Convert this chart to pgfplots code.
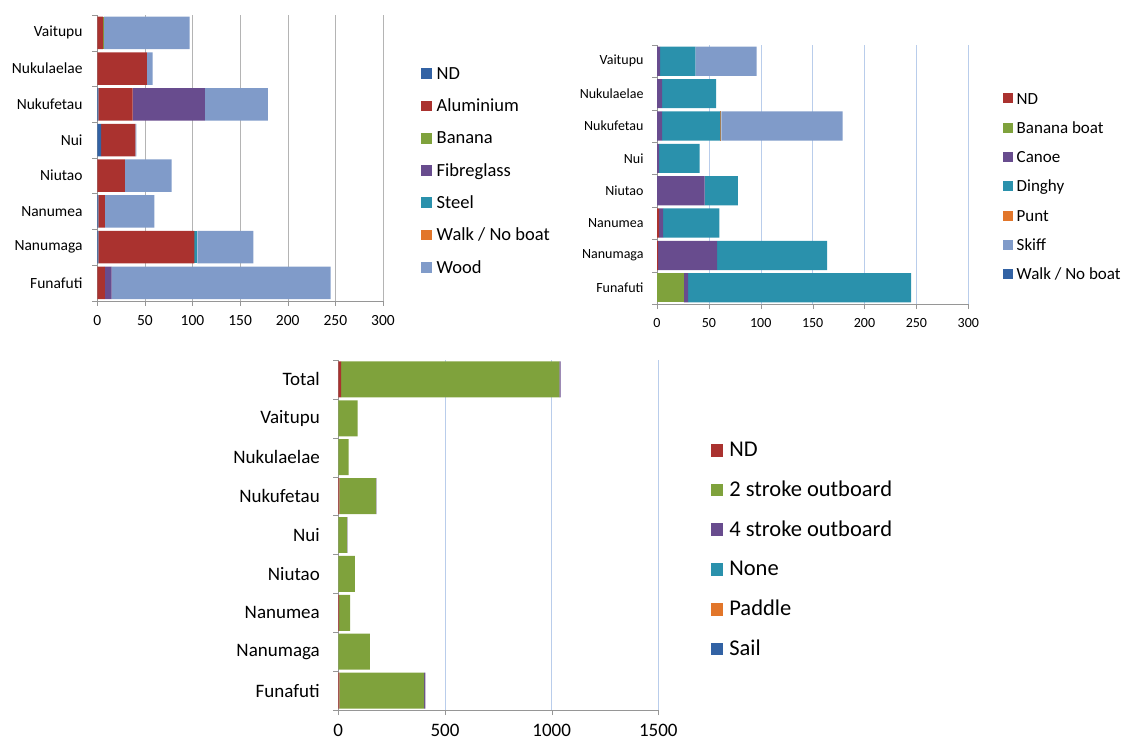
\documentclass[border=0pt]{standalone}
\usepackage{fontspec}
\setmainfont{Carlito}
\usepackage{pgfplots}
\pgfplotsset{compat=1.18}

\definecolor{cRed}{RGB}{170,50,47}
\definecolor{cPur}{RGB}{104,76,142}
\definecolor{cLig}{RGB}{128,155,201}
\definecolor{cTea}{RGB}{42,145,172}
\definecolor{cGre}{RGB}{127,162,60}
\definecolor{cBlu}{RGB}{50,98,164}
\definecolor{cOra}{RGB}{226,118,42}
\definecolor{gridgray}{RGB}{180,180,180}
\definecolor{gridblue}{RGB}{185,205,235}
\definecolor{axgray}{RGB}{150,150,150}

\newcommand{\fs}[1]{\fontsize{#1}{#1}\selectfont}

\pgfplotsset{
  hbar/.style={
    xbar stacked, scale only axis, anchor=south west,
    axis lines*=left, axis line style={draw=axgray},
    tick align=outside, major tick length=5pt,
    ytick style={draw=none}, xtick style={draw=axgray},
    extra y tick style={ytick style={draw=axgray}, grid=none},
    extra y tick labels={},
    xmajorgrids, xmin=0, scaled ticks=false,
    /pgf/number format/assume math mode=true,
    /pgf/number format/1000 sep={},
    x tick label style={inner sep=0pt},
    y tick label style={inner sep=0pt, anchor=east},
    legend style={draw=none, fill=none, inner sep=0pt, outer sep=0pt,
      anchor=north west, cells={anchor=base west}},
  },
}

\begin{document}
\begin{tikzpicture}
\path[use as bounding box] (0,0) rectangle (1125pt,-742pt);

% boat material
\begin{axis}[hbar, at={(97.3pt,-300.7pt)}, width=285.7pt, height=285.7pt,
  xmax=300, xtick={0,50,...,300}, ymin=-0.5, ymax=7.5, bar width=0.91,
  ytick={0,...,7},
  yticklabels={Funafuti,Nanumaga,Nanumea,Niutao,Nui,Nukufetau,Nukulaelae,Vaitupu},
  extra y ticks={-0.5,0.5,...,7.5},
  major grid style={draw=gridgray},
  tick label style={font=\fs{15.5}},
  x tick label style={yshift=-9.3pt}, y tick label style={xshift=-9.6pt},
  legend style={at={(1.133,0.8206)}, font=\fs{18.5}, row sep=15.3pt, column sep=5pt,
    nodes={inner sep=0pt, text height=13pt, text depth=4pt}},
  legend image code/.code={\fill[#1] (0pt,0.3pt) rectangle (10.7pt,11pt);},
]
\addplot[draw=none, fill=cBlu] coordinates {(0,0) (1,1) (1,2) (0,3) (4,4) (1,5) (0,6) (0,7)};
\addplot[draw=none, fill=cRed] coordinates {(8,0) (101,1) (7,2) (29,3) (36,4) (36,5) (52,6) (6,7)};
\addplot[draw=none, fill=cGre] coordinates {(0,0) (0,1) (0,2) (0,3) (0,4) (0,5) (0,6) (1,7)};
\addplot[draw=none, fill=cPur] coordinates {(7,0) (0,1) (0,2) (0,3) (0,4) (76,5) (0,6) (0,7)};
\addplot[draw=none, fill=cTea] coordinates {(0,0) (3,1) (0,2) (0,3) (0,4) (0,5) (0,6) (0,7)};
\addplot[draw=none, fill=cOra] coordinates {(0,0) (0,1) (0,2) (0,3) (0,4) (0,5) (0,6) (0,7)};
\addplot[draw=none, fill=cLig] coordinates {(230,0) (59,1) (52,2) (49,3) (1,4) (66,5) (6,6) (90,7)};
\legend{ND,Aluminium,Banana,Fibreglass,Steel,Walk / No boat,Wood}
\end{axis}

% boat type
\begin{axis}[hbar, at={(657pt,-304pt)}, width=311.3pt, height=259pt,
  xmax=300, xtick={0,50,...,300}, ymin=-0.5, ymax=7.5, bar width=0.9,
  ytick={0,...,7},
  yticklabels={Funafuti,Nanumaga,Nanumea,Niutao,Nui,Nukufetau,Nukulaelae,Vaitupu},
  extra y ticks={-0.5,0.5,...,7.5},
  major grid style={draw=gridblue},
  tick label style={font=\fs{14}},
  x tick label style={yshift=-9.3pt}, y tick label style={xshift=-8.3pt},
  legend style={at={(1.1105,0.8185)}, font=\fs{17}, row sep=13.3pt, column sep=4pt,
    nodes={inner sep=0pt, text height=12pt, text depth=4pt}},
  legend image code/.code={\fill[#1] (0pt,0.7pt) rectangle (10pt,10.7pt);},
]
\addplot[draw=none, fill=cRed] coordinates {(0,0) (1,1) (2,2) (0,3) (0,4) (0,5) (0,6) (0,7)};
\addplot[draw=none, fill=cGre] coordinates {(26,0) (0,1) (0,2) (0,3) (0,4) (0,5) (0,6) (0,7)};
\addplot[draw=none, fill=cPur] coordinates {(4,0) (57,1) (4,2) (46,3) (2,4) (5,5) (5,6) (3,7)};
\addplot[draw=none, fill=cTea] coordinates {(215,0) (106,1) (54,2) (32,3) (39,4) (56,5) (52,6) (34,7)};
\addplot[draw=none, fill=cOra] coordinates {(0,0) (0,1) (0,2) (0,3) (0,4) (1,5) (0,6) (0,7)};
\addplot[draw=none, fill=cLig] coordinates {(0,0) (0,1) (0,2) (0,3) (0,4) (117,5) (0,6) (59,7)};
\addplot[draw=none, fill=cBlu] coordinates {(0,0) (0,1) (0,2) (0,3) (0,4) (0,5) (0,6) (0,7)};
\legend{ND,Banana boat,Canoe,Dinghy,Punt,Skiff,Walk / No boat}
\end{axis}

% propulsion
\begin{axis}[hbar, at={(338.3pt,-710pt)}, width=320pt, height=350pt,
  xmax=1500, xtick={0,500,1000,1500}, ymin=-0.5, ymax=8.5, bar width=0.925,
  ytick={0,...,8},
  yticklabels={Funafuti,Nanumaga,Nanumea,Niutao,Nui,Nukufetau,Nukulaelae,Vaitupu,Total},
  extra y ticks={-0.5,0.5,...,8.5},
  major grid style={draw=gridblue},
  tick label style={font=\fs{19}},
  x tick label style={yshift=-9pt}, y tick label style={xshift=-13.3pt},
  legend style={at={(1.1638,0.7694)}, font=\fs{22.5}, row sep=18.7pt, column sep=6pt,
    nodes={inner sep=0pt, text height=16pt, text depth=5pt}},
  legend image code/.code={\fill[#1] (0pt,0pt) rectangle (12.6pt,12.7pt);},
]
\addplot[draw=none, fill=cRed] coordinates {(5,0) (0,1) (4,2) (0,3) (0,4) (5,5) (0,6) (0,7) (13,8)};
\addplot[draw=none, fill=cGre] coordinates {(397,0) (148,1) (52,2) (78,3) (41,4) (172,5) (48,6) (91,7) (1023,8)};
\addplot[draw=none, fill=cPur] coordinates {(6,0) (0,1) (0,2) (0,3) (2,4) (2,5) (0,6) (0,7) (6,8)};
\addplot[draw=none, fill=cTea] coordinates {(0,0) (0,1) (0,2) (0,3) (0,4) (0,5) (0,6) (0,7) (0,8)};
\addplot[draw=none, fill=cOra] coordinates {(0,0) (0,1) (0,2) (0,3) (0,4) (0,5) (0,6) (0,7) (0,8)};
\addplot[draw=none, fill=cBlu] coordinates {(0,0) (0,1) (0,2) (0,3) (0,4) (0,5) (0,6) (0,7) (0,8)};
\legend{ND,2 stroke outboard,4 stroke outboard,None,Paddle,Sail}
\end{axis}
\end{tikzpicture}
\end{document}
